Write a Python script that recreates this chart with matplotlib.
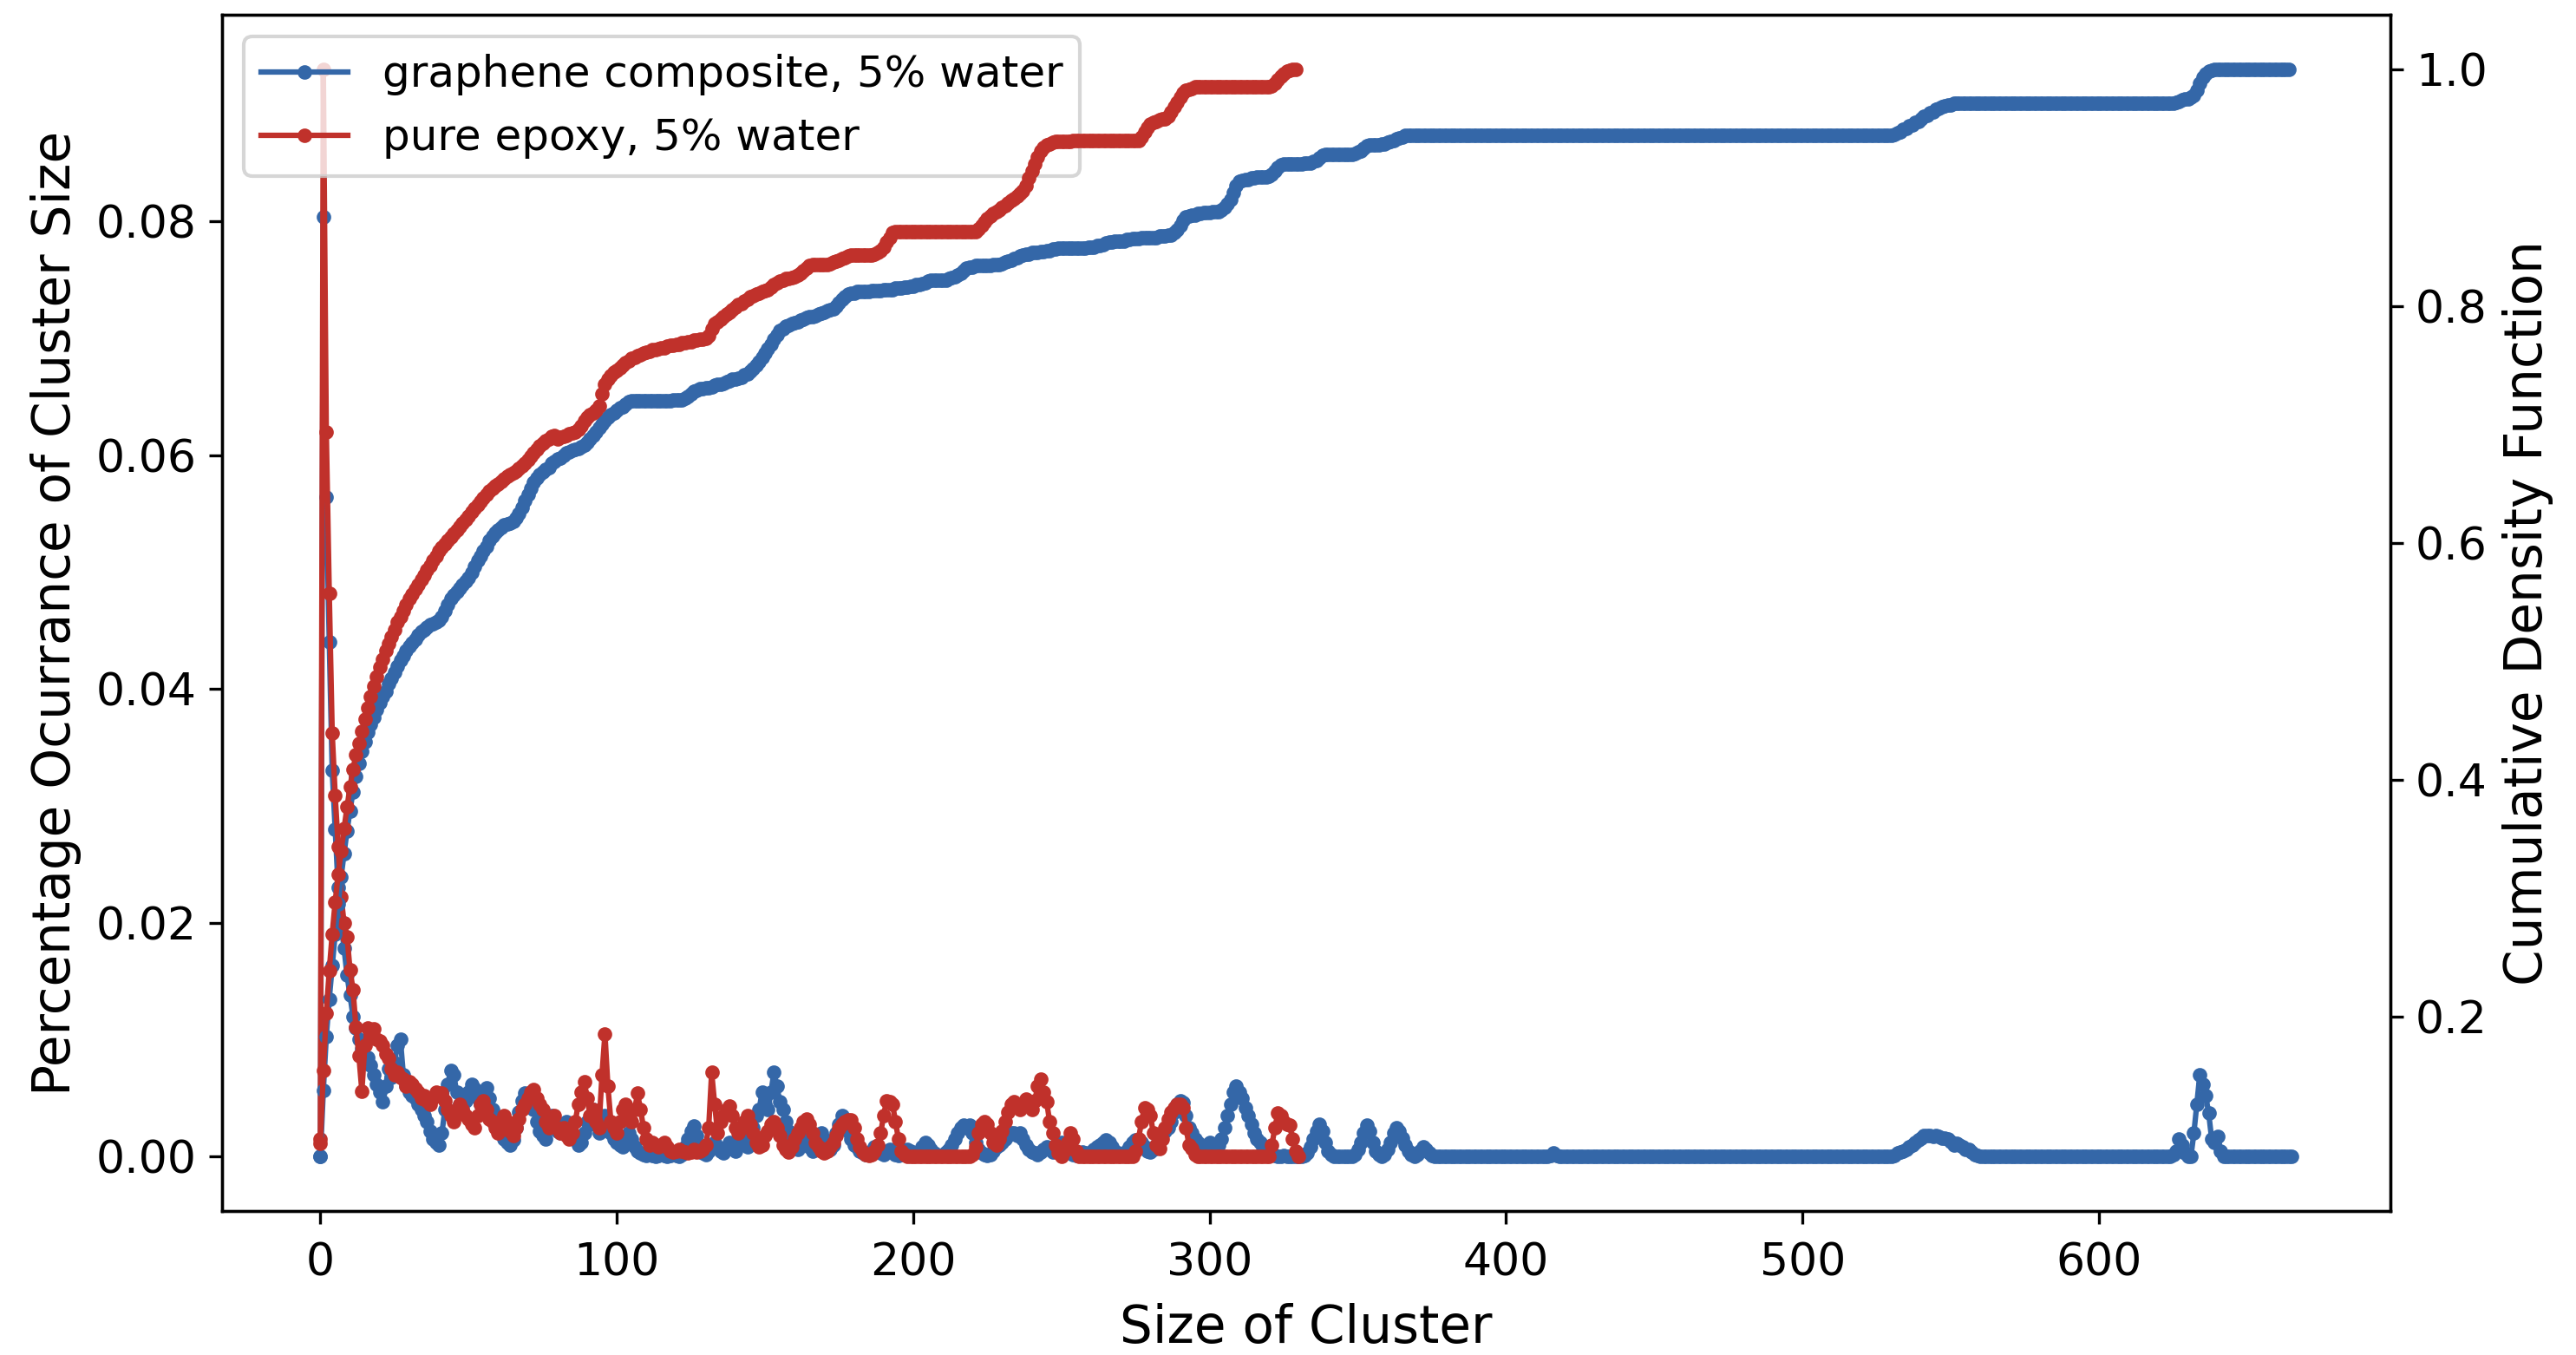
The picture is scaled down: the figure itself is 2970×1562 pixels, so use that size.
import numpy as np
import matplotlib
matplotlib.use("Agg")
import matplotlib.pyplot as plt

# ---------------- data ----------------
labels = ["graphene composite, 5% water", "pure epoxy, 5% water"]
colors = ["#3467a8", "#c0312b"]

# Percentage occurrence of cluster size, in units of 1e-4, cluster size 0..665
blue_pdf_e4 = [
    0, 804, 564, 440, 330, 280, 230, 200, 178, 155,
    138, 120, 110, 100, 92, 80, 85, 78, 70, 62,
    55, 47, 60, 75, 68, 80, 95, 100, 70, 60,
    55, 52, 50, 45, 40, 35, 30, 22, 15, 12,
    10, 20, 40, 62, 74, 70, 55, 45, 40, 48,
    55, 62, 58, 50, 45, 52, 59, 50, 40, 30,
    25, 20, 15, 12, 10, 14, 25, 38, 48, 54,
    50, 53, 40, 30, 22, 18, 15, 25, 35, 30,
    22, 20, 25, 30, 20, 18, 15, 10, 12, 20,
    30, 28, 40, 30, 20, 25, 35, 30, 20, 15,
    12, 10, 8, 12, 20, 15, 8, 5, 3, 2,
    1, 2, 1, 0, 1, 2, 1, 0, 1, 2,
    1, 0, 2, 8, 15, 22, 26, 18, 8, 3,
    2, 5, 10, 12, 8, 5, 3, 8, 12, 8,
    5, 10, 15, 12, 8, 15, 25, 35, 40, 55,
    45, 40, 55, 72, 60, 47, 40, 30, 22, 15,
    10, 6, 10, 15, 12, 8, 5, 8, 14, 20,
    15, 10, 6, 10, 20, 28, 35, 30, 22, 15,
    10, 8, 5, 3, 2, 3, 5, 8, 5, 3,
    2, 4, 6, 4, 2, 1, 2, 4, 6, 5,
    3, 2, 4, 8, 12, 10, 6, 3, 2, 1,
    2, 4, 6, 10, 15, 20, 25, 27, 25, 27,
    20, 12, 6, 3, 2, 1, 2, 5, 8, 10,
    12, 15, 18, 20, 20, 18, 20, 15, 10, 6,
    4, 3, 2, 4, 6, 8, 6, 4, 6, 10,
    12, 10, 6, 3, 2, 1, 2, 4, 3, 2,
    4, 6, 8, 10, 12, 14, 12, 8, 5, 3,
    2, 3, 5, 8, 12, 14, 14, 12, 8, 5,
    4, 6, 10, 15, 20, 22, 25, 30, 38, 45,
    48, 46, 35, 25, 20, 15, 12, 10, 8, 10,
    12, 10, 8, 10, 15, 25, 35, 45, 55, 60,
    55, 50, 42, 35, 28, 20, 15, 12, 8, 5,
    3, 2, 1, 0, 0, 1, 0, 0, 0, 0,
    0, 0, 1, 3, 8, 15, 22, 28, 22, 12,
    5, 2, 0, 0, 0, 0, 0, 0, 0, 2,
    6, 12, 20, 27, 22, 12, 5, 2, 0, 2,
    6, 12, 20, 25, 22, 16, 10, 5, 2, 0,
    2, 5, 8, 6, 3, 1, 0, 0, 0, 0,
] + [0] * 35 + [1, 3, 1, 0, 0] + [0] * 110 + [
    0, 1, 3, 4, 5, 6, 8, 10, 12, 14,
    16, 18, 18, 18, 17, 18, 17, 16, 16, 15,
    13, 10, 11, 10, 8, 6, 6, 4, 2, 1,
] + [0] * 65 + [2, 5, 15, 10, 3] + [
    0, 0, 20, 45, 70, 62, 52, 37, 15, 12,
    17, 5, 0, 0, 0, 0, 0, 0, 0, 0,
] + [0] * 16

# cluster size 0..330
red_pdf_e4 = [
    15, 930, 620, 482, 362, 309, 265, 222, 200, 188,
    160, 143, 111, 86, 56, 95, 110, 105, 109, 100,
    99, 95, 88, 84, 75, 70, 72, 68, 66, 60,
    64, 62, 58, 55, 50, 52, 48, 45, 50, 55,
    52, 54, 48, 40, 35, 30, 38, 45, 40, 35,
    32, 28, 25, 35, 45, 48, 40, 32, 30, 25,
    20, 28, 35, 30, 22, 18, 25, 32, 40, 45,
    50, 55, 57, 50, 45, 40, 30, 25, 30, 35,
    25, 20, 25, 18, 15, 20, 30, 45, 55, 64,
    50, 35, 40, 30, 25, 70, 105, 60, 30, 25,
    20, 30, 40, 45, 38, 30, 40, 54, 40, 25,
    15, 10, 12, 10, 8, 10, 12, 8, 5, 4,
    5, 6, 5, 4, 3, 4, 6, 4, 5, 6,
    10, 25, 72, 45, 20, 30, 35, 40, 43, 35,
    25, 20, 25, 30, 35, 28, 20, 12, 8, 10,
    18, 22, 28, 30, 25, 18, 10, 6, 4, 8,
    15, 20, 25, 30, 32, 28, 20, 12, 8, 5,
    3, 5, 8, 12, 18, 24, 28, 30, 31, 31,
    25, 15, 8, 4, 2, 1, 2, 5, 10, 20,
    35, 48, 47, 45, 30, 15, 5, 2, 0, 0,
] + [0] * 20 + [
    2, 8, 20, 28, 30, 28, 20, 12, 10, 15,
    22, 30, 38, 45, 47, 42, 40, 45, 49, 45,
    40, 48, 60, 66, 55, 47, 30, 20, 10, 3,
    0, 5, 12, 20, 15, 5, 0, 0, 0, 0,
] + [0] * 15 + [
    5, 15, 30, 42, 40, 35, 20, 10, 7, 15,
    25, 32, 38, 42, 45, 45, 42, 25, 10, 7,
    2, 0, 0, 0, 0,
] + [0] * 21 + [10, 25, 37, 35, 30, 28, 27, 15, 5, 0]

# Cumulative density function, in units of 1e-3, cluster size 0..664
blue_cdf_e3 = [
    82, 138, 183, 215, 243, 270, 295, 318, 338, 357,
    374, 390, 403, 414, 424, 432, 440, 447, 453, 459,
    465, 470, 475, 481, 486, 491, 496, 501, 505, 509,
    513, 516, 519, 522, 525, 527, 529, 531, 532, 533,
    535, 538, 543, 548, 553, 556, 559, 562, 565, 568,
    571, 575, 580, 585, 589, 593, 597, 602, 606, 609,
    611, 613, 615, 616, 617, 618, 621, 625, 630, 636,
    641, 646, 651, 655, 658, 660, 662, 664, 667, 669,
    671, 672, 674, 676, 677, 678, 679, 680, 681, 683,
    685, 688, 691, 694, 697, 700, 703, 706, 708, 710,
    712, 714, 715, 717, 719, 720, 720, 720, 720, 720,
    720, 720, 720, 720, 720, 720, 720, 720, 720, 721,
    721, 721, 721, 722, 724, 726, 728, 729, 730, 730,
    731, 731, 732, 733, 734, 734, 735, 736, 737, 738,
    738, 739, 740, 742, 743, 745, 747, 750, 753, 757,
    760, 764, 768, 772, 776, 779, 781, 783, 784, 785,
    786, 787, 788, 789, 790, 791, 791, 792, 793, 794,
    795, 796, 797, 798, 800, 803, 806, 808, 810, 811,
    811, 812, 812, 812, 812, 812, 813, 813, 813, 813,
    814, 814, 814, 814, 815, 815, 815, 816, 816, 817,
    817, 818, 818, 819, 820, 821, 822, 822, 822, 822,
    822, 822, 823, 824, 825, 826, 828, 830, 832, 833,
    833, 834, 834, 834, 834, 834, 834, 835, 835, 835,
    836, 837, 838, 839, 840, 841, 842, 843, 844, 844,
    845, 845, 845, 846, 846, 847, 847, 848, 848, 849,
    849, 849, 849, 849, 849, 849, 849, 849, 849, 850,
    850, 850, 851, 851, 852, 853, 854, 854, 855, 855,
    855, 855, 856, 856, 857, 857, 857, 858, 858, 858,
    858, 858, 858, 859, 859, 859, 860, 860, 862, 864,
    868, 872, 875, 876, 877, 877, 878, 878, 879, 879,
    879, 880, 880, 880, 881, 883, 886, 890, 896, 902,
    905, 906, 907, 907, 908, 908, 909, 909, 909, 909,
    910, 911, 914, 917, 919, 920, 920, 920, 920, 920,
    920, 920, 921, 921, 921, 922, 923, 925, 927, 928,
    928, 928, 928, 928, 928, 928, 928, 928, 928, 929,
    930, 931, 933, 935, 936, 936, 936, 936, 937, 937,
    938, 939, 940, 941, 942, 943, 944, 944, 944, 944,
] + [944] * 161 + [
    945, 946, 947, 949, 950, 952, 953, 955, 956,
    958, 960, 961, 963, 964, 966, 967, 968, 969, 970,
    970, 971, 971,
] + [971] * 73 + [
    972, 973, 974, 975, 975, 976, 978, 982, 988, 993, 996, 998, 999,
] + [1000] * 26

# cluster size 0..329
red_cdf_e3 = [
    93, 155, 203, 239, 270, 297, 320, 340, 359, 377,
    394, 409, 421, 431, 441, 451, 461, 470, 479, 487,
    495, 502, 509, 515, 521, 527, 533, 538, 543, 548,
    553, 557, 561, 565, 569, 573, 577, 581, 585, 589,
    593, 596, 599, 602, 605, 608, 611, 614, 617, 620,
    623, 626, 629, 632, 635, 638, 641, 644, 646, 648,
    650, 652, 654, 656, 658, 659, 661, 663, 665, 667,
    670, 673, 676, 679, 682, 684, 686, 688, 690, 691,
    688, 689, 690, 691, 692, 693, 694, 696, 699, 703,
    706, 708, 710, 712, 716, 726, 734, 738, 741, 744,
    746, 748, 750, 752, 754, 756, 757, 758, 759, 760,
    761, 762, 763, 763, 764, 765, 765, 766, 767, 767,
    768, 768, 769, 769, 770, 770, 771, 771, 772, 772,
    773, 775, 781, 785, 787, 789, 791, 793, 795, 797,
    799, 801, 802, 804, 806, 808, 809, 810, 811, 812,
    813, 814, 816, 818, 820, 821, 822, 823, 823, 824,
    825, 826, 828, 830, 832, 834, 835, 835, 835, 835,
    835, 835, 836, 837, 838, 839, 840, 841, 842, 843,
    843, 843, 843, 843, 843, 843, 843, 844, 845, 847,
    850, 854, 858, 862, 863, 863, 863, 863, 863, 863,
] + [863] * 22 + [
    865, 868, 871, 874, 876, 878, 880, 881,
    883, 885, 887, 889, 891, 893, 895, 897, 902, 908,
    914, 920, 926, 931, 934, 936, 937, 938, 939, 939,
    939, 939, 939, 939,
] + [940] * 23 + [
    943, 947, 951, 954, 955, 956, 957, 958, 958,
    960, 964, 968, 972, 976, 980, 982, 983, 984,
] + [985] * 26 + [986, 988, 991, 994, 996, 998, 999, 1000, 1000]

pdf_series = [np.array(blue_pdf_e4) / 1e4, np.array(red_pdf_e4) / 1e4]
cdf_series = [np.array(blue_cdf_e3) / 1e3, np.array(red_cdf_e3) / 1e3]

# ---------------- figure ----------------
fig = plt.figure(figsize=(9.9, 1562 / 300), dpi=300)
ax1 = fig.add_axes([0.0861, 0.1063, 0.8418, 0.8828])
ax2 = ax1.twinx()

for pdf, col, lab in zip(pdf_series, colors, labels):
    ax1.plot(np.arange(len(pdf)), pdf, marker='.', color=col, label=lab)
for cdf, col in zip(cdf_series, colors):
    ax2.plot(np.arange(len(cdf)), cdf, marker='.', color=col)

ax1.set_xlabel('Size of Cluster', fontsize=14.3, labelpad=5)
ax1.set_ylabel('Percentage Ocurrance of Cluster Size', fontsize=14.3)
ax2.set_ylabel('Cumulative Density Function', fontsize=14.3)
ax1.tick_params(labelsize=12.5)
ax1.tick_params(axis='x', pad=5)
ax2.tick_params(labelsize=12.5)
ax1.legend(loc='upper left', fontsize=12)

fig.savefig('out.png', dpi=300)
